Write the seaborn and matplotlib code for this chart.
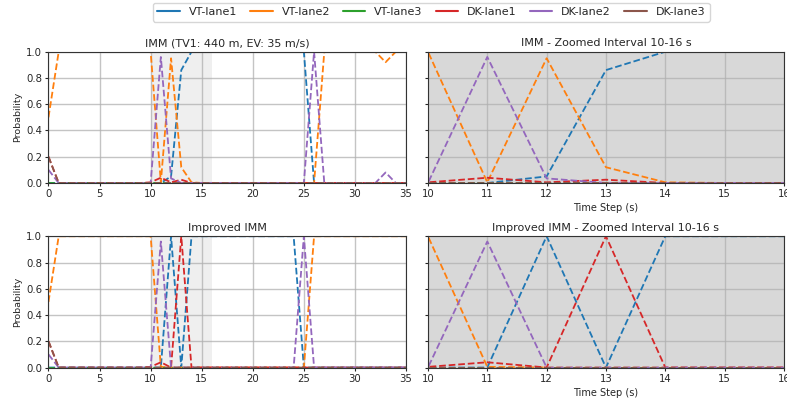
import numpy as np
import pandas as pd
import matplotlib
matplotlib.use("Agg")
import matplotlib.pyplot as plt
from matplotlib.lines import Line2D
import seaborn as sns

time_steps = list(range(36))
labels = ["VT-lane1", "VT-lane2", "VT-lane3", "DK-lane1", "DK-lane2", "DK-lane3"]
colors = ["#1f77b4", "#ff7f0e", "#2ca02c", "#d62728", "#9467bd", "#8c564b"]

# IMM probabilities (t = 0..35)
imm_vt1 = [0, 0, 0, 0, 0, 0, 0, 0, 0, 0, 0, 0, 0.05, 0.86, 1, 1, 1, 1, 1, 1, 1, 1, 1, 1, 1, 1, 0, 0, 0, 0, 0, 0, 0, 0, 0, 0]
imm_vt2 = [0.5, 1, 1, 1, 1, 1, 1, 1, 1, 1, 1, 0.005, 0.95, 0.12, 0.005, 0, 0, 0, 0, 0, 0, 0, 0, 0, 0, 0, 0, 1, 1, 1, 1, 1, 1, 0.92, 1, 1]
imm_vt3 = [0] * 36
imm_dk1 = [0.2, 0, 0, 0, 0, 0, 0, 0, 0, 0, 0.005, 0.04, 0.005, 0.025, 0, 0, 0, 0, 0, 0, 0, 0, 0, 0, 0, 0, 0, 0, 0, 0, 0, 0, 0, 0, 0, 0]
imm_dk2 = [0.1, 0, 0, 0, 0, 0, 0, 0, 0, 0, 0, 0.96, 0.035, 0, 0, 0, 0, 0, 0, 0, 0, 0, 0, 0, 0, 0, 1, 0, 0, 0, 0, 0, 0, 0.08, 0, 0]
imm_dk3 = [0.2] + [0] * 35

# Improved IMM probabilities (t = 0..35)
imp_vt1 = [0, 0, 0, 0, 0, 0, 0, 0, 0, 0, 0, 0, 1, 0, 1, 1, 1, 1, 1, 1, 1, 1, 1, 1, 1, 0, 0, 0, 0, 0, 0, 0, 0, 0, 0, 0]
imp_vt2 = [0.5, 1, 1, 1, 1, 1, 1, 1, 1, 1, 1, 0.005, 0, 0, 0, 0, 0, 0, 0, 0, 0, 0, 0, 0, 0, 0, 1, 1, 1, 1, 1, 1, 1, 1, 1, 1]
imp_vt3 = [0] * 36
imp_dk1 = [0.2, 0, 0, 0, 0, 0, 0, 0, 0, 0, 0.005, 0.04, 0, 1, 0, 0, 0, 0, 0, 0, 0, 0, 0, 0, 0, 0, 0, 0, 0, 0, 0, 0, 0, 0, 0, 0]
imp_dk2 = [0.1, 0, 0, 0, 0, 0, 0, 0, 0, 0, 0, 0.96, 0, 0, 0, 0, 0, 0, 0, 0, 0, 0, 0, 0, 0, 1, 0, 0, 0, 0, 0, 0, 0, 0, 0, 0]
imp_dk3 = [0.2] + [0] * 35

imm_series = [imm_vt1, imm_vt2, imm_vt3, imm_dk1, imm_dk2, imm_dk3]
imp_series = [imp_vt1, imp_vt2, imp_vt3, imp_dk1, imp_dk2, imp_dk3]

sns.set_style("ticks")
plt.rcParams["font.family"] = ["DejaVu Sans"]
plt.rcParams["axes.edgecolor"] = "#333333"

fig, axes = plt.subplots(2, 2, figsize=(7.87, 3.99), dpi=100)

def draw(ax, series, xlim, shade_alpha):
    ax.axvspan(10, 16, color="gray", alpha=shade_alpha, lw=0, zorder=0)
    for lab, col, vals in zip(labels, colors, series):
        df = pd.DataFrame({"t": time_steps, "p": vals})
        sns.lineplot(data=df, x="t", y="p", ax=ax, color=col, linestyle="--", lw=1.3)
    ax.set_xlim(*xlim)
    ax.set_ylim(0, 1)
    ax.set_yticks([0, 0.2, 0.4, 0.6, 0.8, 1.0])
    ax.grid(True, color="#b0b0b0", lw=1.0, alpha=0.75)
    ax.tick_params(labelsize=7.3, length=2.5, pad=2)
    ax.set_xlabel("")
    ax.set_ylabel("")

draw(axes[0, 0], imm_series, (0, 35), 0.12)
draw(axes[1, 0], imp_series, (0, 35), 0.12)
draw(axes[0, 1], imm_series, (10, 16), 0.3)
draw(axes[1, 1], imp_series, (10, 16), 0.3)

for ax in axes[:, 0]:
    ax.set_xticks(range(0, 36, 5))
    ax.set_ylabel("Probability", fontsize=6.8, labelpad=3)
for ax in axes[:, 1]:
    ax.set_xticks(range(10, 17))
    ax.set_yticklabels([])
    ax.set_xlabel("Time Step (s)", fontsize=7, labelpad=3)

axes[0, 0].set_title("IMM (TV1: 440 m, EV: 35 m/s)", fontsize=8, pad=4)
axes[1, 0].set_title("Improved IMM", fontsize=8, pad=4)
axes[0, 1].set_title("IMM - Zoomed Interval 10-16 s", fontsize=8, pad=4)
axes[1, 1].set_title("Improved IMM - Zoomed Interval 10-16 s", fontsize=8, pad=4)

axes[0, 0].set_position([0.0616, 0.5414, 0.4543, 0.329])
axes[1, 0].set_position([0.0616, 0.0789, 0.4543, 0.329])
axes[0, 1].set_position([0.5438, 0.5414, 0.4523, 0.329])
axes[1, 1].set_position([0.5438, 0.0789, 0.4523, 0.329])

handles = [Line2D([0], [0], color=c, lw=1.5) for c in colors]
fig.legend(handles, labels, loc="upper center", bbox_to_anchor=(0.548, 1.0),
           ncol=6, fontsize=8, frameon=True, handlelength=2.0, columnspacing=1.2,
           borderaxespad=0.25)

fig.savefig("out.png", dpi=100)
